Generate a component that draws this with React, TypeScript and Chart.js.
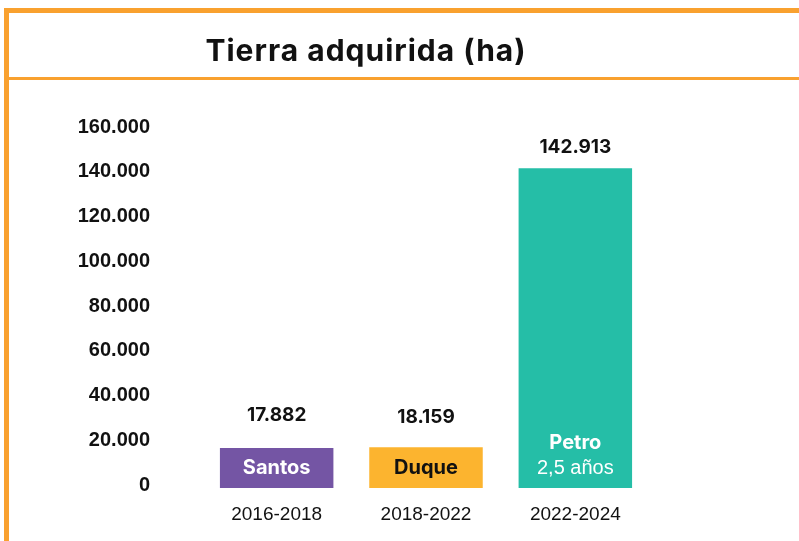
import React, { useEffect, useRef } from "react";
import { Chart, registerables } from "chart.js";

Chart.register(...registerables);

const TITLE = "Tierra adquirida (ha)";
const periods = ["2016-2018", "2018-2022", "2022-2024"];
const presidents = ["Santos", "Duque", "Petro"];
const subNotes = ["", "", "2,5 años"];
const hectares = [17882, 18159, 142913];
const barColors = ["#7455A4", "#FCB42F", "#25BEA7"];
const innerTextColors = ["#FFFFFF", "#111111", "#FFFFFF"];
const yTicks = [0, 20000, 40000, 60000, 80000, 100000, 120000, 140000, 160000];

const ORANGE = "#F9A12F";

function fmt(n: number): string {
  return String(Math.round(n)).replace(/\B(?=(\d{3})+(?!\d))/g, ".");
}

const framePlugin = {
  id: "frame",
  beforeDraw(chart: any) {
    const ctx = chart.ctx;
    ctx.save();
    ctx.fillStyle = "#FFFFFF";
    ctx.fillRect(0, 0, chart.width, chart.height);
    ctx.fillStyle = ORANGE;
    ctx.fillRect(4, 8, chart.width - 4, 5);
    ctx.fillRect(4, 8, 5, chart.height - 8);
    ctx.fillRect(9, 77, chart.width - 9, 3);
    ctx.fillStyle = "#111111";
    ctx.font = "bold 30px Inter";
    (ctx as any).letterSpacing = "1px";
    ctx.textAlign = "center";
    ctx.textBaseline = "alphabetic";
    ctx.fillText(TITLE, 366, 61);
    ctx.restore();
  },
};

const labelPlugin = {
  id: "barLabels",
  afterDatasetsDraw(chart: any) {
    const ctx = chart.ctx;
    const meta = chart.getDatasetMeta(0);
    const valueOffsets = [33, 30, 21];
    ctx.save();
    ctx.textAlign = "center";
    ctx.textBaseline = "middle";
    meta.data.forEach((bar: any, i: number) => {
      const x = bar.x;
      const top = bar.y;
      const base = bar.base;
      ctx.fillStyle = "#111111";
      ctx.font = "bold 19px Inter";
      ctx.fillText(fmt(hectares[i]), x, top - valueOffsets[i]);
      ctx.fillStyle = innerTextColors[i];
      if (subNotes[i]) {
        ctx.font = "bold 20px Inter";
        ctx.fillText(presidents[i], x, base - 45);
        ctx.font = "20px 'Liberation Sans'";
        ctx.fillText(subNotes[i], x, base - 20);
      } else {
        ctx.font = "bold 20px Inter";
        ctx.fillText(presidents[i], x, base - 20);
      }
    });
    ctx.restore();
  },
};

export default function App() {
  const ref = useRef<HTMLCanvasElement>(null);
  useEffect(() => {
    if (!ref.current) return;
    document.body.style.margin = "0";
    const chart = new Chart(ref.current, {
      type: "bar",
      data: {
        labels: periods,
        datasets: [
          {
            data: hectares,
            backgroundColor: barColors,
            borderWidth: 0,
            barPercentage: 0.76,
            categoryPercentage: 1,
          },
        ],
      },
      options: {
        responsive: false,
        animation: false,
        devicePixelRatio: 1,
        layout: { autoPadding: false, padding: { left: 0, right: 149, top: 130, bottom: 0 } },
        plugins: {
          legend: { display: false },
          title: { display: false },
          tooltip: { enabled: false },
        },
        scales: {
          x: {
            grid: { display: false, drawTicks: false },
            border: { display: false },
            ticks: {
              padding: 15,
              color: "#111111",
              font: { family: "'Liberation Sans'", size: 19 },
            },
            afterFit(scale: any) {
              scale.height = 53;
              scale.paddingLeft = 0;
              scale.paddingRight = 0;
            },
          },
          y: {
            min: 0,
            max: 160000,
            afterBuildTicks(scale: any) {
              scale.ticks = yTicks.map((v) => ({ value: v }));
            },
            grid: { display: false, drawTicks: false },
            border: { display: false },
            ticks: {
              padding: 52,
              labelOffset: -3,
              color: "#111111",
              font: { family: "'Liberation Sans'", size: 20, weight: "bold" },
              callback: (v: any) => fmt(Number(v)),
            },
            afterFit(scale: any) {
              scale.width = 202;
              scale.paddingTop = 0;
              scale.paddingBottom = 0;
            },
          },
        },
      },
      plugins: [framePlugin, labelPlugin],
    });
    return () => chart.destroy();
  }, []);
  return (
    <div style={{ position: "absolute", left: 0, top: 0, width: 799, height: 541 }}>
      <canvas ref={ref} width={799} height={541} />
    </div>
  );
}
